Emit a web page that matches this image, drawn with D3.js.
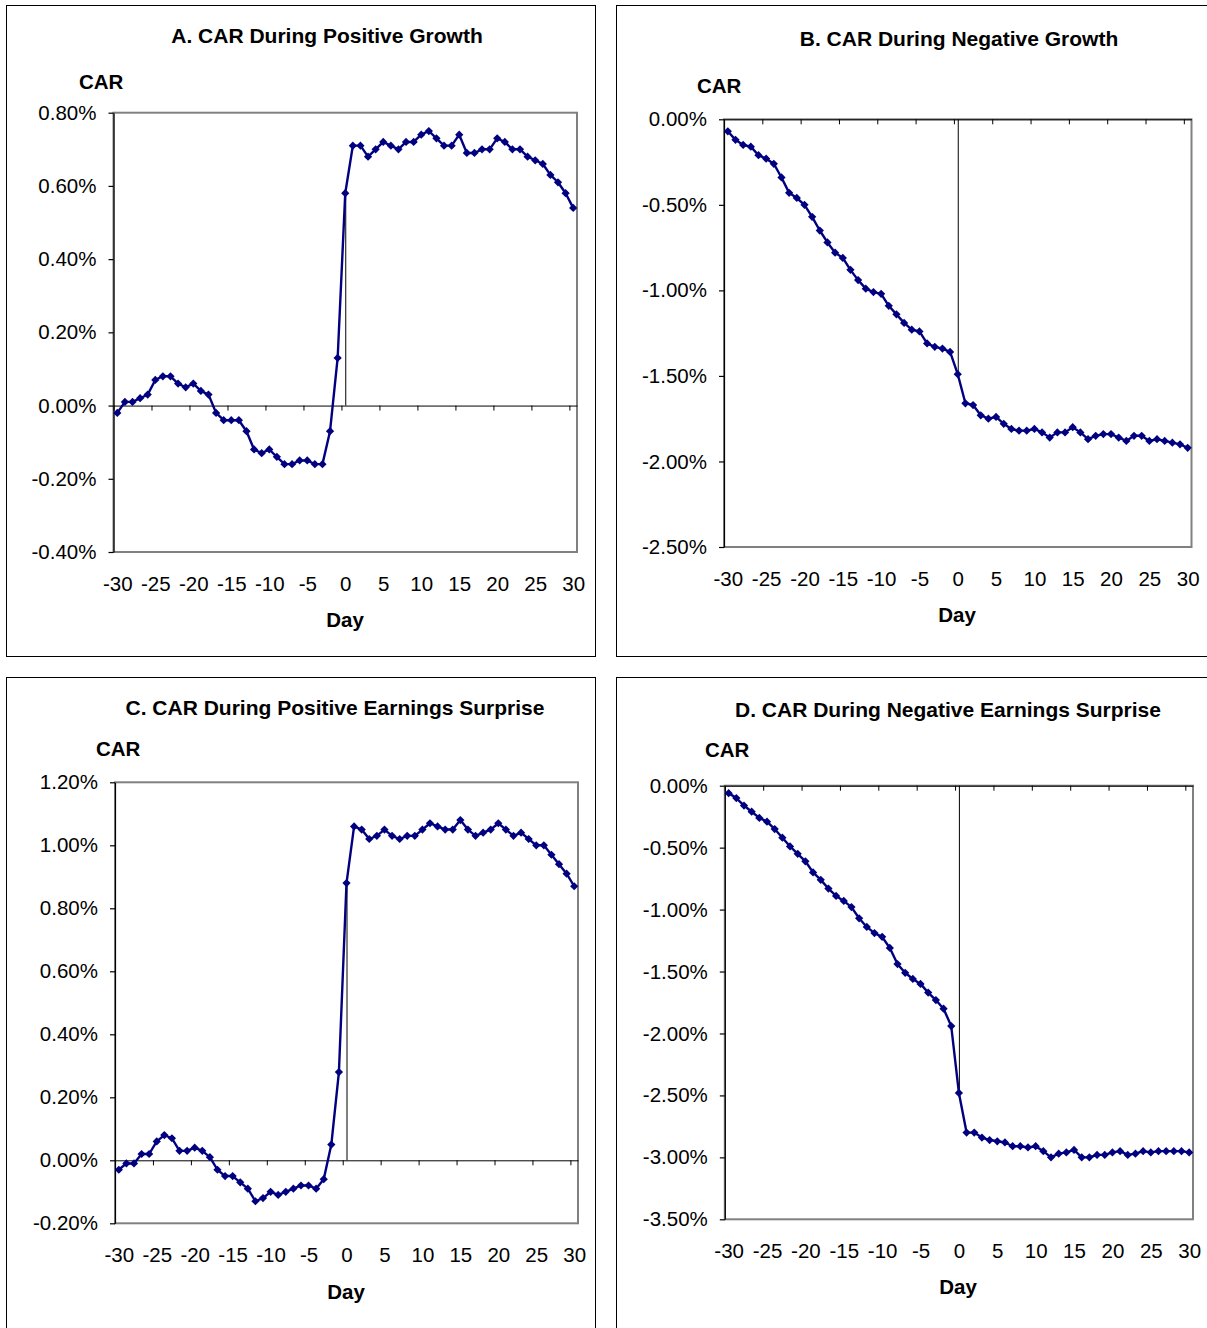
<!DOCTYPE html>
<html>
<head>
<meta charset="utf-8">
<script src="https://cdn.jsdelivr.net/npm/d3@7"></script>
<style>
  html, body { margin: 0; padding: 0; background: #fff; }
  svg { display: block; font-family: "Liberation Sans", Arial, sans-serif; }
</style>
</head>
<body>
<svg id="chart" width="1207" height="1328"></svg>
<script>
// ---------------- DATA ----------------
const days = [-30,-29,-28,-27,-26,-25,-24,-23,-22,-21,-20,-19,-18,-17,-16,-15,-14,-13,-12,-11,
  -10,-9,-8,-7,-6,-5,-4,-3,-2,-1,0,1,2,3,4,5,6,7,8,9,10,11,12,13,14,15,16,17,18,19,20,
  21,22,23,24,25,26,27,28,29,30];
const dayTickLabels = [-30,-25,-20,-15,-10,-5,0,5,10,15,20,25,30];

const titles = [
  "A. CAR During Positive Growth",
  "B. CAR During Negative Growth",
  "C. CAR During Positive Earnings Surprise",
  "D. CAR During Negative Earnings Surprise"
];

// CAR in percent
const carPositiveGrowth = [
  -0.02,0.01,0.01,0.02,0.03, 0.07,0.08,0.08,0.06,0.05, 0.06,0.04,0.03,-0.02,-0.04,
  -0.04,-0.04,-0.07,-0.12,-0.13, -0.12,-0.14,-0.16,-0.16,-0.15, -0.15,-0.16,-0.16,-0.07,0.13,
  0.58,
  0.71,0.71,0.68,0.70,0.72, 0.71,0.70,0.72,0.72,0.74, 0.75,0.73,0.71,0.71,0.74,
  0.69,0.69,0.70,0.70,0.73, 0.72,0.70,0.70,0.68,0.67, 0.66,0.63,0.61,0.58,0.54
];
const carNegativeGrowth = [
  -0.07,-0.12,-0.15,-0.16,-0.21, -0.23,-0.26,-0.34,-0.43,-0.46, -0.50,-0.57,-0.65,-0.72,-0.78,
  -0.81,-0.88,-0.94,-0.99,-1.01, -1.02,-1.09,-1.14,-1.19,-1.23, -1.24,-1.31,-1.33,-1.34,-1.36,
  -1.49,
  -1.66,-1.67,-1.73,-1.75,-1.74, -1.78,-1.81,-1.82,-1.82,-1.81, -1.83,-1.86,-1.83,-1.83,-1.80,
  -1.83,-1.87,-1.85,-1.84,-1.84, -1.86,-1.88,-1.85,-1.85,-1.88, -1.87,-1.88,-1.89,-1.90,-1.92
];
const carPositiveSurprise = [
  -0.03,-0.01,-0.01,0.02,0.02, 0.06,0.08,0.07,0.03,0.03, 0.04,0.03,0.01,-0.03,-0.05,
  -0.05,-0.07,-0.09,-0.13,-0.12, -0.10,-0.11,-0.10,-0.09,-0.08, -0.08,-0.09,-0.06,0.05,0.28,
  0.88,
  1.06,1.05,1.02,1.03,1.05, 1.03,1.02,1.03,1.03,1.05, 1.07,1.06,1.05,1.05,1.08,
  1.05,1.03,1.04,1.05,1.07, 1.05,1.03,1.04,1.02,1.00, 1.00,0.97,0.94,0.91,0.87
];
const carNegativeSurprise = [
  -0.06,-0.10,-0.16,-0.21,-0.26, -0.29,-0.35,-0.42,-0.49,-0.55, -0.61,-0.70,-0.76,-0.83,-0.89,
  -0.93,-0.98,-1.07,-1.14,-1.19, -1.22,-1.31,-1.44,-1.51,-1.56, -1.60,-1.67,-1.73,-1.80,-1.94,
  -2.48,
  -2.80,-2.80,-2.84,-2.86,-2.87, -2.88,-2.91,-2.91,-2.92,-2.91, -2.95,-3.00,-2.97,-2.96,-2.94,
  -3.00,-3.00,-2.98,-2.98,-2.96, -2.95,-2.98,-2.97,-2.95,-2.96, -2.95,-2.95,-2.95,-2.95,-2.96
];

const yTicksA = [-0.4,-0.2,0,0.2,0.4,0.6,0.8];
const yTicksB = [-2.5,-2.0,-1.5,-1.0,-0.5,0];
const yTicksC = [-0.2,0,0.2,0.4,0.6,0.8,1.0,1.2];
const yTicksD = [-3.5,-3.0,-2.5,-2.0,-1.5,-1.0,-0.5,0];

// ---------------- LAYOUT ----------------
const layouts = [
  { frame:[6,5,595,656], plot:{l:113.5,t:112.7,r:577,b:552}, yDomain:[-0.4,0.8], yTicks:yTicksA,
    title:[327,35], car:[79,82], dayLbl:[345,620] },
  { frame:[616,5,1230,656], plot:{l:724,t:119.3,r:1191.5,b:547}, yDomain:[-2.5,0], yTicks:yTicksB,
    title:[959,38], car:[697,86], dayLbl:[957,615] },
  { frame:[6,677,595,1345], plot:{l:115,t:782.3,r:578,b:1223.3}, yDomain:[-0.2,1.2], yTicks:yTicksC,
    title:[335,707], car:[96,749], dayLbl:[346,1292] },
  { frame:[616,677,1230,1345], plot:{l:724.8,t:785.7,r:1193,b:1219.3}, yDomain:[-3.5,0], yTicks:yTicksD,
    title:[948,709], car:[705,750], dayLbl:[958,1287] }
];
const seriesList = [carPositiveGrowth, carNegativeGrowth, carPositiveSurprise, carNegativeSurprise];

const FS = 20.5;
const svg = d3.select("#chart");
svg.append("rect").attr("width",1207).attr("height",1328).attr("fill","#fff");

function drawPanel(cfg, values, title) {
  const g = svg.append("g");
  const [fx0, fy0, fx1, fy1] = cfg.frame;
  g.append("rect").attr("x", fx0+0.5).attr("y", fy0+0.5)
    .attr("width", fx1-fx0).attr("height", fy1-fy0)
    .attr("fill","#fff").attr("stroke","#000").attr("stroke-width",1);

  const p = cfg.plot;
  const x = d3.scaleLinear().domain([-30.5, 30.5]).range([p.l, p.r]);
  const y = d3.scaleLinear().domain(cfg.yDomain).range([p.b, p.t]);

  // plot area border
  g.append("rect").attr("x", p.l).attr("y", p.t).attr("width", p.r-p.l).attr("height", p.b-p.t)
    .attr("fill","none").attr("stroke","#808080").attr("stroke-width",2);

  // category boundary ticks on the zero line
  const boundaries = d3.range(0, 13).map(k => -30.5 + 5*k);
  const xAxisTicks = g.append("g").attr("transform", `translate(0,${y(0)})`)
    .call(d3.axisBottom(x).tickValues(boundaries).tickSize(5).tickSizeOuter(0).tickFormat(""));
  xAxisTicks.selectAll("path,line").attr("stroke","#000").attr("stroke-width",1);

  // x labels at the bottom of plot area
  const xLab = g.append("g").attr("transform", `translate(0,${p.b})`)
    .call(d3.axisBottom(x).tickValues(dayTickLabels).tickSize(0).tickPadding(24).tickFormat(d => String(d)));
  xLab.select(".domain").remove();
  xLab.selectAll("text").attr("font-size", FS).attr("font-family", "Liberation Sans, Arial, sans-serif").attr("fill","#000");

  // y axis
  const yAx = g.append("g").attr("transform", `translate(${p.l},0)`)
    .call(d3.axisLeft(y).tickValues(cfg.yTicks).tickSize(5).tickSizeOuter(0).tickPadding(12)
      .tickFormat(d => d.toFixed(2) + "%"));
  yAx.selectAll("path,line").attr("stroke","#000").attr("stroke-width",1.2);
  yAx.selectAll("text").attr("font-size", FS).attr("font-family", "Liberation Sans, Arial, sans-serif").attr("fill","#000");

  // day-0 drop line
  const v0 = values[days.indexOf(0)];
  g.append("line").attr("x1", x(0)+0.5).attr("x2", x(0)+0.5).attr("y1", y(0)).attr("y2", y(v0))
    .attr("stroke","#000").attr("stroke-width",1);

  // series line
  const data = days.map((d,i) => ({day:d, v:values[i]}));
  g.append("path").datum(data)
    .attr("d", d3.line().x(d => x(d.day)).y(d => y(d.v)))
    .attr("fill","none").attr("stroke","#000080").attr("stroke-width",2.4).attr("stroke-linejoin","round");
  const sym = d3.symbol().type(d3.symbolSquare).size(34);
  g.selectAll(".mk").data(data).enter().append("path")
    .attr("d", sym)
    .attr("transform", d => `translate(${x(d.day)},${y(d.v)}) rotate(45)`)
    .attr("fill","#000080");

  // texts
  g.append("text").attr("x", cfg.title[0]).attr("y", cfg.title[1]).attr("dy","0.36em")
    .attr("text-anchor","middle").attr("font-weight","bold").attr("font-size",21).text(title);
  g.append("text").attr("x", cfg.car[0]).attr("y", cfg.car[1]).attr("dy","0.36em")
    .attr("font-weight","bold").attr("font-size",FS).text("CAR");
  g.append("text").attr("x", cfg.dayLbl[0]).attr("y", cfg.dayLbl[1]).attr("dy","0.36em")
    .attr("text-anchor","middle").attr("font-weight","bold").attr("font-size",FS).text("Day");
}

layouts.forEach((cfg, i) => drawPanel(cfg, seriesList[i], titles[i]));
</script>
</body>
</html>
